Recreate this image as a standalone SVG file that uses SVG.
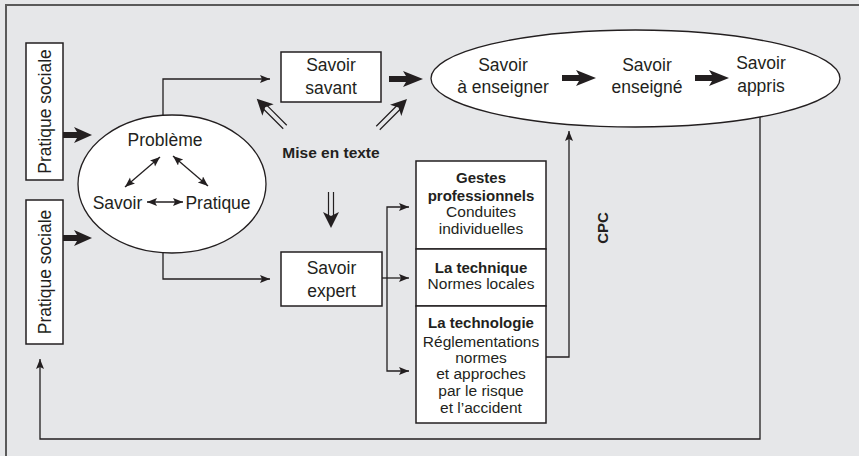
<svg xmlns="http://www.w3.org/2000/svg" width="859" height="456" viewBox="0 0 859 456">
<style>
.t{font-family:"Liberation Sans",Arial,sans-serif;fill:#231f20;text-anchor:middle}
.b{font-weight:bold}
.box{fill:#fff;stroke:#231f20;stroke-width:1.5}
.ln{fill:none;stroke:#231f20;stroke-width:1.3}
.thick{fill:#231f20}
.hol{fill:none;stroke:#231f20;stroke-width:1.2}
</style>
<defs>
<marker id="ah" markerUnits="userSpaceOnUse" markerWidth="12" markerHeight="10" refX="10" refY="4" orient="auto-start-reverse">
<path d="M0,0 L10,4 L0,8 L2,4 z" fill="#231f20"/>
</marker>
</defs>
<rect width="859" height="456" fill="#e6e7e9"/>
<path d="M6,456 V5 H859" fill="none" stroke="#5a5a5a" stroke-width="2"/>

<g id="pratique1">
<rect class="box" x="26" y="43" width="37" height="137"/>
<text class="t" font-size="17.5" transform="translate(50.5,111.5) rotate(-90)">Pratique sociale</text>
</g>
<g id="pratique2">
<rect class="box" x="26" y="200" width="37" height="144"/>
<text class="t" font-size="17.5" transform="translate(50.5,272) rotate(-90)">Pratique sociale</text>
</g>

<g id="probleme">
<ellipse cx="172" cy="184" rx="94" ry="69" fill="#fff" stroke="#231f20" stroke-width="1.3"/>
<text class="t" font-size="17.5" x="165" y="146">Problème</text>
<text class="t" font-size="17.5" x="117.5" y="209">Savoir</text>
<text class="t" font-size="17.5" x="218" y="209">Pratique</text>
</g>

<g id="savoir-savant">
<rect class="box" x="281" y="52" width="100" height="50"/>
<text class="t" font-size="17.5" x="331" y="71">Savoir</text>
<text class="t" font-size="17.5" x="331" y="94">savant</text>
</g>

<g id="savoir-expert">
<rect class="box" x="281" y="252" width="101" height="54"/>
<text class="t" font-size="17.5" x="331.5" y="274">Savoir</text>
<text class="t" font-size="17.5" x="331.5" y="297">expert</text>
</g>

<g id="mise-en-texte">
<text class="t b" font-size="15.5" x="331" y="158">Mise en texte</text>
</g>

<g id="savoirs-ellipse">
<ellipse cx="635.5" cy="78.5" rx="204.5" ry="48.5" fill="#fff" stroke="#231f20" stroke-width="1.3"/>
<text class="t" font-size="17.5" x="503" y="71">Savoir</text>
<text class="t" font-size="17.5" x="503" y="93">à enseigner</text>
<text class="t" font-size="17.5" x="647" y="71">Savoir</text>
<text class="t" font-size="17.5" x="647" y="93">enseigné</text>
<text class="t" font-size="17.5" x="761" y="69">Savoir</text>
<text class="t" font-size="17.5" x="761" y="92">appris</text>
</g>

<g id="gestes">
<rect class="box" x="416" y="161" width="130" height="88"/>
<text class="t b" font-size="15" x="481" y="183">Gestes</text>
<text class="t b" font-size="15" x="481" y="201">professionnels</text>
<text class="t" font-size="15.5" x="481" y="217">Conduites</text>
<text class="t" font-size="15.5" x="481" y="234">individuelles</text>
</g>
<g id="technique">
<rect class="box" x="416" y="249" width="130" height="57"/>
<text class="t b" font-size="15" x="481" y="273">La technique</text>
<text class="t" font-size="15.5" x="481" y="289">Normes locales</text>
</g>
<g id="technologie">
<rect class="box" x="416" y="306" width="130" height="117"/>
<text class="t b" font-size="15" x="481" y="328">La technologie</text>
<text class="t" font-size="15.5" x="481" y="347">Réglementations</text>
<text class="t" font-size="15.5" x="481" y="363">normes</text>
<text class="t" font-size="15.5" x="481" y="379">et approches</text>
<text class="t" font-size="15.5" x="481" y="396">par le risque</text>
<text class="t" font-size="15.5" x="481" y="413">et l’accident</text>
</g>

<g id="cpc">
<text class="t b" font-size="15" transform="translate(608,228) rotate(-90)">CPC</text>
</g>

<g id="connectors">
<path class="ln" d="M163,115 V79 H270" marker-end="url(#ah)"/>
<path class="ln" d="M163,253 V279 H270" marker-end="url(#ah)"/>
<path class="ln" d="M382,278 H409" marker-end="url(#ah)"/>
<path class="ln" d="M409,207 H387 V371 H409" marker-start="url(#ah)" marker-end="url(#ah)"/>
<path class="ln" d="M546,357 H569 V131" marker-end="url(#ah)"/>
<path class="ln" d="M760,117 V439 H40 V359" marker-end="url(#ah)"/>
<line class="ln" x1="160" y1="157" x2="125" y2="187" marker-start="url(#ah)" marker-end="url(#ah)"/>
<line class="ln" x1="173" y1="156" x2="208" y2="186" marker-start="url(#ah)" marker-end="url(#ah)"/>
<line class="ln" x1="147" y1="202" x2="183" y2="202" marker-start="url(#ah)" marker-end="url(#ah)"/>
<path class="thick" d="M63,132 H77 L74,127 L92,135 L74,143 L77,138 H63 z"/>
<path class="thick" d="M63,235 H77 L74,230 L92,238 L74,246 L77,241 H63 z"/>
<path class="thick" d="M389,76 H406 L403,71 L423,79 L403,87 L406,82 H389 z"/>
<path class="thick" d="M562,75 H579 L576,70 L596,78 L576,86 L579,81 H562 z"/>
<path class="thick" d="M695,75 H712 L709,70 L729,78 L709,86 L712,81 H695 z"/>
<g transform="translate(285,127) rotate(-135)">
<path class="hol" d="M0,-2.5 H28 M0,2.5 H28"/>
<path class="thick" d="M40,0 L24,-8 L28,0 L24,8 z"/>
</g>
<g transform="translate(378,128) rotate(-45)">
<path class="hol" d="M0,-2.5 H29 M0,2.5 H29"/>
<path class="thick" d="M41,0 L25,-8 L29,0 L25,8 z"/>
</g>
<g transform="translate(331,192) rotate(90)">
<path class="hol" d="M0,-2.5 H24 M0,2.5 H24"/>
<path class="thick" d="M36,0 L20,-8 L24,0 L20,8 z"/>
</g>
</g>
</svg>
